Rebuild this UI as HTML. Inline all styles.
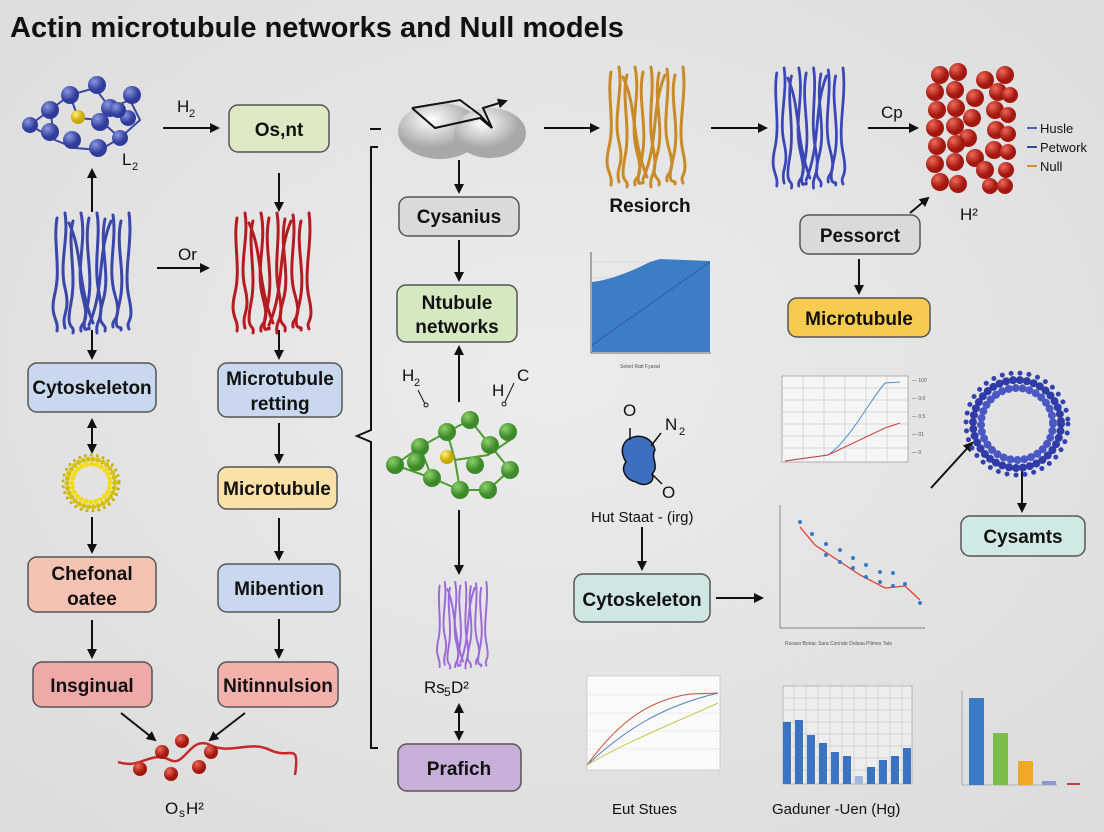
<!DOCTYPE html>
<html><head><meta charset="utf-8"><style>
html,body{margin:0;padding:0;width:1104px;height:832px;overflow:hidden;background:#e6e6e6}
svg{display:block}
text{font-family:"Liberation Sans",sans-serif;fill:#111}
.b{font-weight:bold;font-size:19px}
.t{font-size:17px}
.s{font-size:5px;fill:#555}
</style></head><body>
<svg width="1104" height="832" viewBox="0 0 1104 832" xmlns="http://www.w3.org/2000/svg">
<defs>
<radialGradient id="bg" cx="50%" cy="45%" r="70%"><stop offset="0" stop-color="#ececec"/><stop offset="1" stop-color="#dcdcdc"/></radialGradient>
<marker id="ar" markerWidth="10" markerHeight="10" refX="8" refY="5" orient="auto" markerUnits="userSpaceOnUse"><path d="M0,0 L10,5 L0,10 z" fill="#111"/></marker>
<marker id="as" markerWidth="10" markerHeight="10" refX="2" refY="5" orient="auto" markerUnits="userSpaceOnUse"><path d="M10,0 L0,5 L10,10 z" fill="#111"/></marker>
<radialGradient id="gb" cx="35%" cy="30%"><stop offset="0" stop-color="#8a96e0"/><stop offset="1" stop-color="#2f3c9a"/></radialGradient>
<radialGradient id="gr" cx="35%" cy="30%"><stop offset="0" stop-color="#ee6a5a"/><stop offset="1" stop-color="#a3170f"/></radialGradient>
<radialGradient id="gg" cx="35%" cy="30%"><stop offset="0" stop-color="#8fd06a"/><stop offset="1" stop-color="#3c8a2a"/></radialGradient>
<radialGradient id="gy" cx="35%" cy="30%"><stop offset="0" stop-color="#fff27a"/><stop offset="1" stop-color="#c9a800"/></radialGradient>
<radialGradient id="gw" cx="40%" cy="30%"><stop offset="0" stop-color="#ffffff"/><stop offset="1" stop-color="#a8a8a8"/></radialGradient>
<g id="fil" fill="none" stroke-width="3" stroke-linecap="round">
<path d="M4,5 C0,30 8,55 2,80 S6,105 4,118"/>
<path d="M12,0 C16,25 6,50 12,75 S8,100 12,115"/>
<path d="M20,8 C14,30 24,60 18,90 S22,110 20,120"/>
<path d="M28,0 C34,30 22,55 30,85 S26,108 28,118"/>
<path d="M36,5 C30,35 42,60 34,95 S38,110 36,116"/>
<path d="M44,0 C48,25 40,50 46,80 S42,105 44,120"/>
<path d="M52,6 C46,35 58,60 50,88 S54,108 52,118"/>
<path d="M60,2 C64,28 54,55 62,82 S58,104 60,114"/>
<path d="M68,8 C62,35 74,60 66,92 S70,110 68,117"/>
<path d="M76,0 C80,30 70,58 76,85 S72,106 76,116"/>
<path d="M16,10 C30,40 24,70 40,110"/>
<path d="M58,8 C44,40 52,75 36,112"/>
</g>
</defs>
<rect width="1104" height="832" fill="url(#bg)"/>
<text x="10" y="37" style="font-weight:bold;font-size:29px">Actin microtubule networks and Null models</text>

<!-- blue molecule top-left -->
<g stroke="#3a46a0" stroke-width="2" fill="none">
<path d="M30,125 L50,110 L70,95 L95,88 L110,108 L130,100 L140,120 L120,138 L100,150 L75,148 L55,140 L30,125 M70,95 L78,118 L100,120 L120,138 M55,140 L50,110 M110,108 L100,120"/>
</g>
<g fill="url(#gb)">
<circle cx="30" cy="125" r="8"/><circle cx="50" cy="110" r="9"/><circle cx="70" cy="95" r="9"/><circle cx="97" cy="85" r="9"/><circle cx="132" cy="95" r="9"/><circle cx="110" cy="108" r="9"/><circle cx="128" cy="118" r="8"/><circle cx="100" cy="122" r="9"/><circle cx="120" cy="138" r="8"/><circle cx="98" cy="148" r="9"/><circle cx="72" cy="140" r="9"/><circle cx="50" cy="132" r="9"/><circle cx="118" cy="110" r="8"/>
</g>
<circle cx="78" cy="117" r="7" fill="url(#gy)"/>
<text x="122" y="165" class="t">L</text><text x="132" y="170" style="font-size:11px">2</text>

<text x="177" y="112" class="t">H</text><text x="189" y="117" style="font-size:11px">2</text>
<line x1="163" y1="128" x2="218" y2="128" stroke="#111" stroke-width="2" marker-end="url(#ar)"/>

<!-- boxes -->
<g stroke="#555" stroke-width="1.5">
<rect x="229" y="105" width="100" height="47" rx="9" fill="#dde9c4"/>
<rect x="28" y="363" width="128" height="49" rx="9" fill="#c9d8ee"/>
<rect x="218" y="363" width="124" height="54" rx="9" fill="#c9d8ee"/>
<rect x="218" y="467" width="119" height="42" rx="9" fill="#fbe0a8"/>
<rect x="28" y="557" width="128" height="55" rx="9" fill="#f5c3b3"/>
<rect x="218" y="564" width="122" height="48" rx="9" fill="#c9d8ee"/>
<rect x="33" y="662" width="119" height="45" rx="9" fill="#efa9a8"/>
<rect x="218" y="662" width="120" height="45" rx="9" fill="#f2b1ab"/>
<rect x="399" y="197" width="120" height="39" rx="9" fill="#dadada"/>
<rect x="397" y="285" width="120" height="57" rx="9" fill="#d5e8c2"/>
<rect x="398" y="744" width="123" height="47" rx="9" fill="#c6afd9"/>
<rect x="800" y="215" width="120" height="39" rx="9" fill="#dadada"/>
<rect x="788" y="298" width="142" height="39" rx="9" fill="#f6cb50"/>
<rect x="574" y="574" width="136" height="48" rx="9" fill="#cfe6e3"/>
<rect x="961" y="516" width="124" height="40" rx="9" fill="#d1e9e4"/>
</g>
<g class="b" text-anchor="middle">
<text x="279" y="136" class="b">Os,nt</text>
<text x="92" y="394" class="b">Cytoskeleton</text>
<text x="280" y="385" class="b">Microtubule</text><text x="280" y="410" class="b">retting</text>
<text x="277" y="495" class="b">Microtubule</text>
<text x="92" y="580" class="b">Chefonal</text><text x="92" y="605" class="b">oatee</text>
<text x="279" y="595" class="b">Mibention</text>
<text x="92" y="692" class="b">Insginual</text>
<text x="278" y="692" class="b">Nitinnulsion</text>
<text x="459" y="223" class="b">Cysanius</text>
<text x="457" y="309" class="b">Ntubule</text><text x="457" y="333" class="b">networks</text>
<text x="459" y="775" class="b">Prafich</text>
<text x="860" y="242" class="b">Pessorct</text>
<text x="859" y="325" class="b">Microtubule</text>
<text x="642" y="606" class="b">Cytoskeleton</text>
<text x="1023" y="543" class="b">Cysamts</text>
<text x="650" y="212" class="b">Resiorch</text>
</g>

<!-- filaments -->
<use href="#fil" x="53" y="213" stroke="#3b47a8"/>
<use href="#fil" x="233" y="213" stroke="#b51c22"/>
<use href="#fil" x="607" y="67" stroke="#c98a28"/>
<use href="#fil" x="773" y="68" stroke="#3b47b8" transform="translate(774,68) scale(0.92,1) translate(-774,-68)"/>
<use href="#fil" x="0" y="0" stroke="#9c6ad8" transform="translate(437,582) scale(0.65,0.72)"/>

<!-- arrows -->
<g stroke="#111" stroke-width="2" fill="none">
<line x1="92" y1="212" x2="92" y2="170" marker-end="url(#ar)"/>
<line x1="92" y1="330" x2="92" y2="358" marker-end="url(#ar)"/>
<line x1="92" y1="420" x2="92" y2="452" marker-end="url(#ar)" marker-start="url(#as)"/>
<line x1="92" y1="517" x2="92" y2="552" marker-end="url(#ar)"/>
<line x1="92" y1="620" x2="92" y2="657" marker-end="url(#ar)"/>
<line x1="121" y1="713" x2="155" y2="740" marker-end="url(#ar)"/>
<line x1="157" y1="268" x2="208" y2="268" marker-end="url(#ar)"/>
<line x1="279" y1="173" x2="279" y2="210" marker-end="url(#ar)"/>
<line x1="279" y1="330" x2="279" y2="358" marker-end="url(#ar)"/>
<line x1="279" y1="423" x2="279" y2="462" marker-end="url(#ar)"/>
<line x1="279" y1="518" x2="279" y2="559" marker-end="url(#ar)"/>
<line x1="279" y1="619" x2="279" y2="657" marker-end="url(#ar)"/>
<line x1="245" y1="713" x2="210" y2="740" marker-end="url(#ar)"/>
<line x1="459" y1="160" x2="459" y2="192" marker-end="url(#ar)"/>
<line x1="459" y1="240" x2="459" y2="280" marker-end="url(#ar)"/>
<line x1="459" y1="402" x2="459" y2="347" marker-end="url(#ar)"/>
<line x1="459" y1="510" x2="459" y2="573" marker-end="url(#ar)"/>
<line x1="459" y1="705" x2="459" y2="739" marker-end="url(#ar)" marker-start="url(#as)"/>
<line x1="544" y1="128" x2="598" y2="128" marker-end="url(#ar)"/>
<line x1="711" y1="128" x2="766" y2="128" marker-end="url(#ar)"/>
<line x1="868" y1="128" x2="917" y2="128" marker-end="url(#ar)"/>
<line x1="910" y1="213" x2="928" y2="198" marker-end="url(#ar)"/>
<line x1="859" y1="259" x2="859" y2="293" marker-end="url(#ar)"/>
<line x1="642" y1="527" x2="642" y2="569" marker-end="url(#ar)"/>
<line x1="716" y1="598" x2="762" y2="598" marker-end="url(#ar)"/>
<line x1="931" y1="488" x2="972" y2="443" marker-end="url(#ar)"/>
<line x1="1022" y1="470" x2="1022" y2="511" marker-end="url(#ar)"/>
<path d="M378,147 H371 V430 L357,436 L371,442 V748 H378"/>
<line x1="370" y1="129" x2="381" y2="129"/>
</g>
<text x="178" y="260" class="t">Or</text>

<!-- yellow ring -->
<circle cx="91" cy="483" r="24" fill="none" stroke="#d4c000" stroke-width="5" stroke-dasharray="0 5" stroke-linecap="round"/>
<circle cx="91" cy="483" r="19" fill="none" stroke="#f2dc10" stroke-width="5" stroke-dasharray="0 5" stroke-linecap="round"/>
<circle cx="91" cy="483" r="28" fill="none" stroke="#c9b000" stroke-width="3" stroke-dasharray="0 6" stroke-linecap="round"/>

<!-- red helix -->
<path d="M118,762 C140,770 150,750 170,760 C185,768 190,735 210,745 C230,755 250,740 270,750 C290,760 300,740 295,775" fill="none" stroke="#c8262a" stroke-width="2.5"/>
<g fill="url(#gr)"><circle cx="140" cy="769" r="7"/><circle cx="162" cy="752" r="7"/><circle cx="171" cy="774" r="7"/><circle cx="182" cy="741" r="7"/><circle cx="199" cy="767" r="7"/><circle cx="211" cy="752" r="7"/></g>
<text x="165" y="814" class="t">O</text><text x="179" y="817" style="font-size:12px">s</text><text x="186" y="814" class="t">H²</text>

<!-- gray blob -->
<ellipse cx="440" cy="131" rx="42" ry="28" fill="url(#gw)"/>
<ellipse cx="490" cy="133" rx="36" ry="25" fill="url(#gw)"/>
<g stroke="#111" stroke-width="2" fill="none"><path d="M412,108 L460,100 L480,115 L492,128 L483,108 L506,101" marker-end="url(#ar)"/><path d="M412,108 L435,128 L480,118 L492,128"/></g>

<!-- green molecule -->
<g stroke="#4c9a30" stroke-width="2" fill="none"><path d="M395,465 L420,447 L447,432 L470,420 L490,445 L510,470 L488,490 L460,490 L432,478 L395,465 M447,432 L455,460 L488,455 L510,440 M420,447 L432,478 M455,460 L460,490"/></g>
<g fill="url(#gg)"><circle cx="395" cy="465" r="9"/><circle cx="420" cy="447" r="9"/><circle cx="447" cy="432" r="9"/><circle cx="470" cy="420" r="9"/><circle cx="508" cy="432" r="9"/><circle cx="490" cy="445" r="9"/><circle cx="510" cy="470" r="9"/><circle cx="488" cy="490" r="9"/><circle cx="460" cy="490" r="9"/><circle cx="432" cy="478" r="9"/><circle cx="416" cy="462" r="9"/><circle cx="475" cy="465" r="9"/></g>
<circle cx="447" cy="457" r="7" fill="url(#gy)"/>
<text x="402" y="381" class="t">H</text><text x="414" y="386" style="font-size:11px">2</text>
<path d="M418,390 L425,404" stroke="#111" fill="none"/><circle cx="426" cy="405" r="2" fill="none" stroke="#111"/>
<text x="492" y="396" class="t">H</text><text x="517" y="381" class="t">C</text>
<path d="M514,383 L505,402" stroke="#111" fill="none"/><circle cx="504" cy="404" r="2" fill="none" stroke="#111"/>
<text x="424" y="693" class="t">Rs</text><text x="444" y="696" style="font-size:12px">5</text><text x="451" y="693" class="t">D²</text>

<!-- red cluster -->
<g fill="url(#gr)">
<circle cx="940" cy="75" r="9"/><circle cx="958" cy="72" r="9"/><circle cx="985" cy="80" r="9"/><circle cx="1005" cy="75" r="9"/>
<circle cx="935" cy="92" r="9"/><circle cx="955" cy="90" r="9"/><circle cx="975" cy="98" r="9"/><circle cx="998" cy="92" r="9"/><circle cx="1010" cy="95" r="8"/>
<circle cx="937" cy="110" r="9"/><circle cx="956" cy="108" r="9"/><circle cx="972" cy="118" r="9"/><circle cx="995" cy="110" r="9"/><circle cx="1008" cy="115" r="8"/>
<circle cx="935" cy="128" r="9"/><circle cx="955" cy="126" r="9"/><circle cx="968" cy="138" r="9"/><circle cx="996" cy="130" r="9"/><circle cx="1008" cy="134" r="8"/>
<circle cx="937" cy="146" r="9"/><circle cx="956" cy="144" r="9"/><circle cx="975" cy="158" r="9"/><circle cx="994" cy="150" r="9"/><circle cx="1008" cy="152" r="8"/>
<circle cx="935" cy="164" r="9"/><circle cx="955" cy="162" r="9"/><circle cx="985" cy="170" r="9"/><circle cx="1006" cy="170" r="8"/>
<circle cx="940" cy="182" r="9"/><circle cx="958" cy="184" r="9"/><circle cx="990" cy="186" r="8"/><circle cx="1005" cy="186" r="8"/>
</g>
<text x="881" y="118" class="t">Cp</text>
<text x="960" y="220" class="t">H²</text>
<g stroke-width="2"><line x1="1027" y1="128" x2="1037" y2="128" stroke="#4a64b8"/><line x1="1027" y1="147" x2="1037" y2="147" stroke="#3a4e9a"/><line x1="1027" y1="166" x2="1037" y2="166" stroke="#d49030"/></g>
<text x="1040" y="133" style="font-size:13px">Husle</text><text x="1040" y="152" style="font-size:13px">Petwork</text><text x="1040" y="171" style="font-size:13px">Null</text>

<!-- blue ring -->
<circle cx="1017" cy="424" r="44" fill="none" stroke="#2f3ca8" stroke-width="8" stroke-dasharray="0 7" stroke-linecap="round"/>
<circle cx="1017" cy="424" r="36" fill="none" stroke="#4a58c4" stroke-width="8" stroke-dasharray="0 7" stroke-linecap="round"/>
<circle cx="1017" cy="424" r="51" fill="none" stroke="#3340b0" stroke-width="5" stroke-dasharray="0 9" stroke-linecap="round"/>

<!-- molecule blue blob -->
<path d="M627,440 C640,432 652,438 655,450 C650,458 660,466 652,474 C656,482 645,488 636,482 C626,480 620,470 626,462 C620,452 622,445 627,440 z" fill="#3e6ec0" stroke="#111" stroke-width="1.5"/>
<path d="M630,440 V428 M651,446 L661,433 M652,474 L662,484" stroke="#111" stroke-width="1.5"/>
<text x="623" y="416" class="t">O</text><text x="665" y="430" class="t">N</text><text x="679" y="435" style="font-size:11px">2</text>
<text x="662" y="498" class="t">O</text>
<text x="591" y="522" style="font-size:15px">Hut Staat - (irg)</text>

<!-- area chart -->
<g>
<path d="M592,262 H710 M592,278 H710 M592,294 H710 M592,310 H710 M592,326 H710 M592,342 H710" stroke="#ccc" stroke-width="0.6"/>
<path d="M592,282 C610,280 630,272 650,262 L660,259 L710,261 V352 H592 z" fill="#3c7dc6"/>
<path d="M592,345 L710,262" stroke="#2a5a98" stroke-width="0.8"/>
<path d="M591,252 V353 H711" stroke="#444" fill="none" stroke-width="0.8"/>
<text x="620" y="368" class="s">Seted Ratt Fyaxat</text>
</g>

<!-- line chart -->
<g>
<rect x="782" y="376" width="126" height="86" fill="#f5f5f5" stroke="#888" stroke-width="0.6"/>
<path d="M782,388 H908 M782,400 H908 M782,412 H908 M782,424 H908 M782,436 H908 M782,448 H908 M803,376 V462 M824,376 V462 M845,376 V462 M866,376 V462 M887,376 V462" stroke="#bbb" stroke-width="0.5"/>
<path d="M785,461 L828,455 C850,440 870,400 885,383 L900,382" stroke="#4a8fd0" fill="none" stroke-width="1"/>
<path d="M785,461 L828,455 L885,428 L900,423" stroke="#d04040" fill="none" stroke-width="1"/>
<text x="912" y="382" class="s">— 100</text><text x="912" y="400" class="s">— 0.0</text><text x="912" y="418" class="s">— 0.5</text><text x="912" y="436" class="s">— 01</text><text x="912" y="454" class="s">— 0</text>
</g>

<!-- scatter chart -->
<g>
<path d="M780,505 V628 H925" stroke="#666" fill="none" stroke-width="0.7"/>
<path d="M800,527 L815,545 L830,555 L845,565 L860,575 L885,588 L905,586 L920,600" stroke="#e04030" fill="none" stroke-width="1.3"/>
<g fill="#3a78c8"><circle cx="800" cy="522" r="2"/><circle cx="812" cy="534" r="2"/><circle cx="826" cy="544" r="2"/><circle cx="826" cy="555" r="2"/><circle cx="840" cy="550" r="2"/><circle cx="840" cy="562" r="2"/><circle cx="853" cy="558" r="2"/><circle cx="853" cy="568" r="2"/><circle cx="866" cy="565" r="2"/><circle cx="866" cy="577" r="2"/><circle cx="880" cy="572" r="2"/><circle cx="880" cy="582" r="2"/><circle cx="893" cy="573" r="2"/><circle cx="893" cy="586" r="2"/><circle cx="905" cy="584" r="2"/><circle cx="920" cy="603" r="2"/></g>
<text x="785" y="645" class="s">Roraso Bonac Sara Conrate Dolsaa Plimeo Tats</text>
</g>

<!-- curves chart -->
<g>
<rect x="587" y="676" width="133" height="94" fill="#fafafa" stroke="#bbb" stroke-width="0.6"/>
<path d="M587,695 H720 M587,713 H720 M587,731 H720 M587,749 H720" stroke="#ddd" stroke-width="0.6"/>
<path d="M587,765 C620,720 650,700 690,694 L718,693" stroke="#d04a3a" fill="none" stroke-width="1"/>
<path d="M587,765 C625,730 660,707 718,693" stroke="#4a7ec0" fill="none" stroke-width="1"/>
<path d="M587,765 C630,740 670,725 718,703" stroke="#c8c850" fill="none" stroke-width="1"/>
<text x="612" y="814" style="font-size:15px">Eut Stues</text>
</g>

<!-- bar chart -->
<g>
<rect x="783" y="686" width="129" height="98" fill="#ededed" stroke="#999" stroke-width="0.6"/>
<path d="M794,686 V784 M806,686 V784 M818,686 V784 M830,686 V784 M842,686 V784 M854,686 V784 M866,686 V784 M878,686 V784 M890,686 V784 M902,686 V784 M783,698 H912 M783,710 H912 M783,722 H912 M783,734 H912 M783,746 H912 M783,758 H912 M783,770 H912" stroke="#bbb" stroke-width="0.5"/>
<g fill="#3a74c0"><rect x="783" y="722" width="8" height="62"/><rect x="795" y="720" width="8" height="64"/><rect x="807" y="735" width="8" height="49"/><rect x="819" y="743" width="8" height="41"/><rect x="831" y="752" width="8" height="32"/><rect x="843" y="756" width="8" height="28"/><rect x="855" y="776" width="8" height="8" fill="#a0b8dc"/><rect x="867" y="767" width="8" height="17"/><rect x="879" y="760" width="8" height="24"/><rect x="891" y="756" width="8" height="28"/><rect x="903" y="748" width="8" height="36"/></g>
<text x="772" y="814" style="font-size:15px">Gaduner -Uen (Hg)</text>
</g>

<!-- small bar chart -->
<g>
<path d="M962,690 V785 H1057" stroke="#888" fill="none" stroke-width="0.6"/>
<rect x="969" y="698" width="15" height="87" fill="#3a7cc8"/>
<rect x="993" y="733" width="15" height="52" fill="#7cbc4a"/>
<rect x="1018" y="761" width="15" height="24" fill="#f0a828"/>
<rect x="1042" y="781" width="14" height="4" fill="#8a9ad0"/>
<rect x="1067" y="783" width="13" height="2" fill="#c04040"/>
</g>
</svg>
</body></html>
